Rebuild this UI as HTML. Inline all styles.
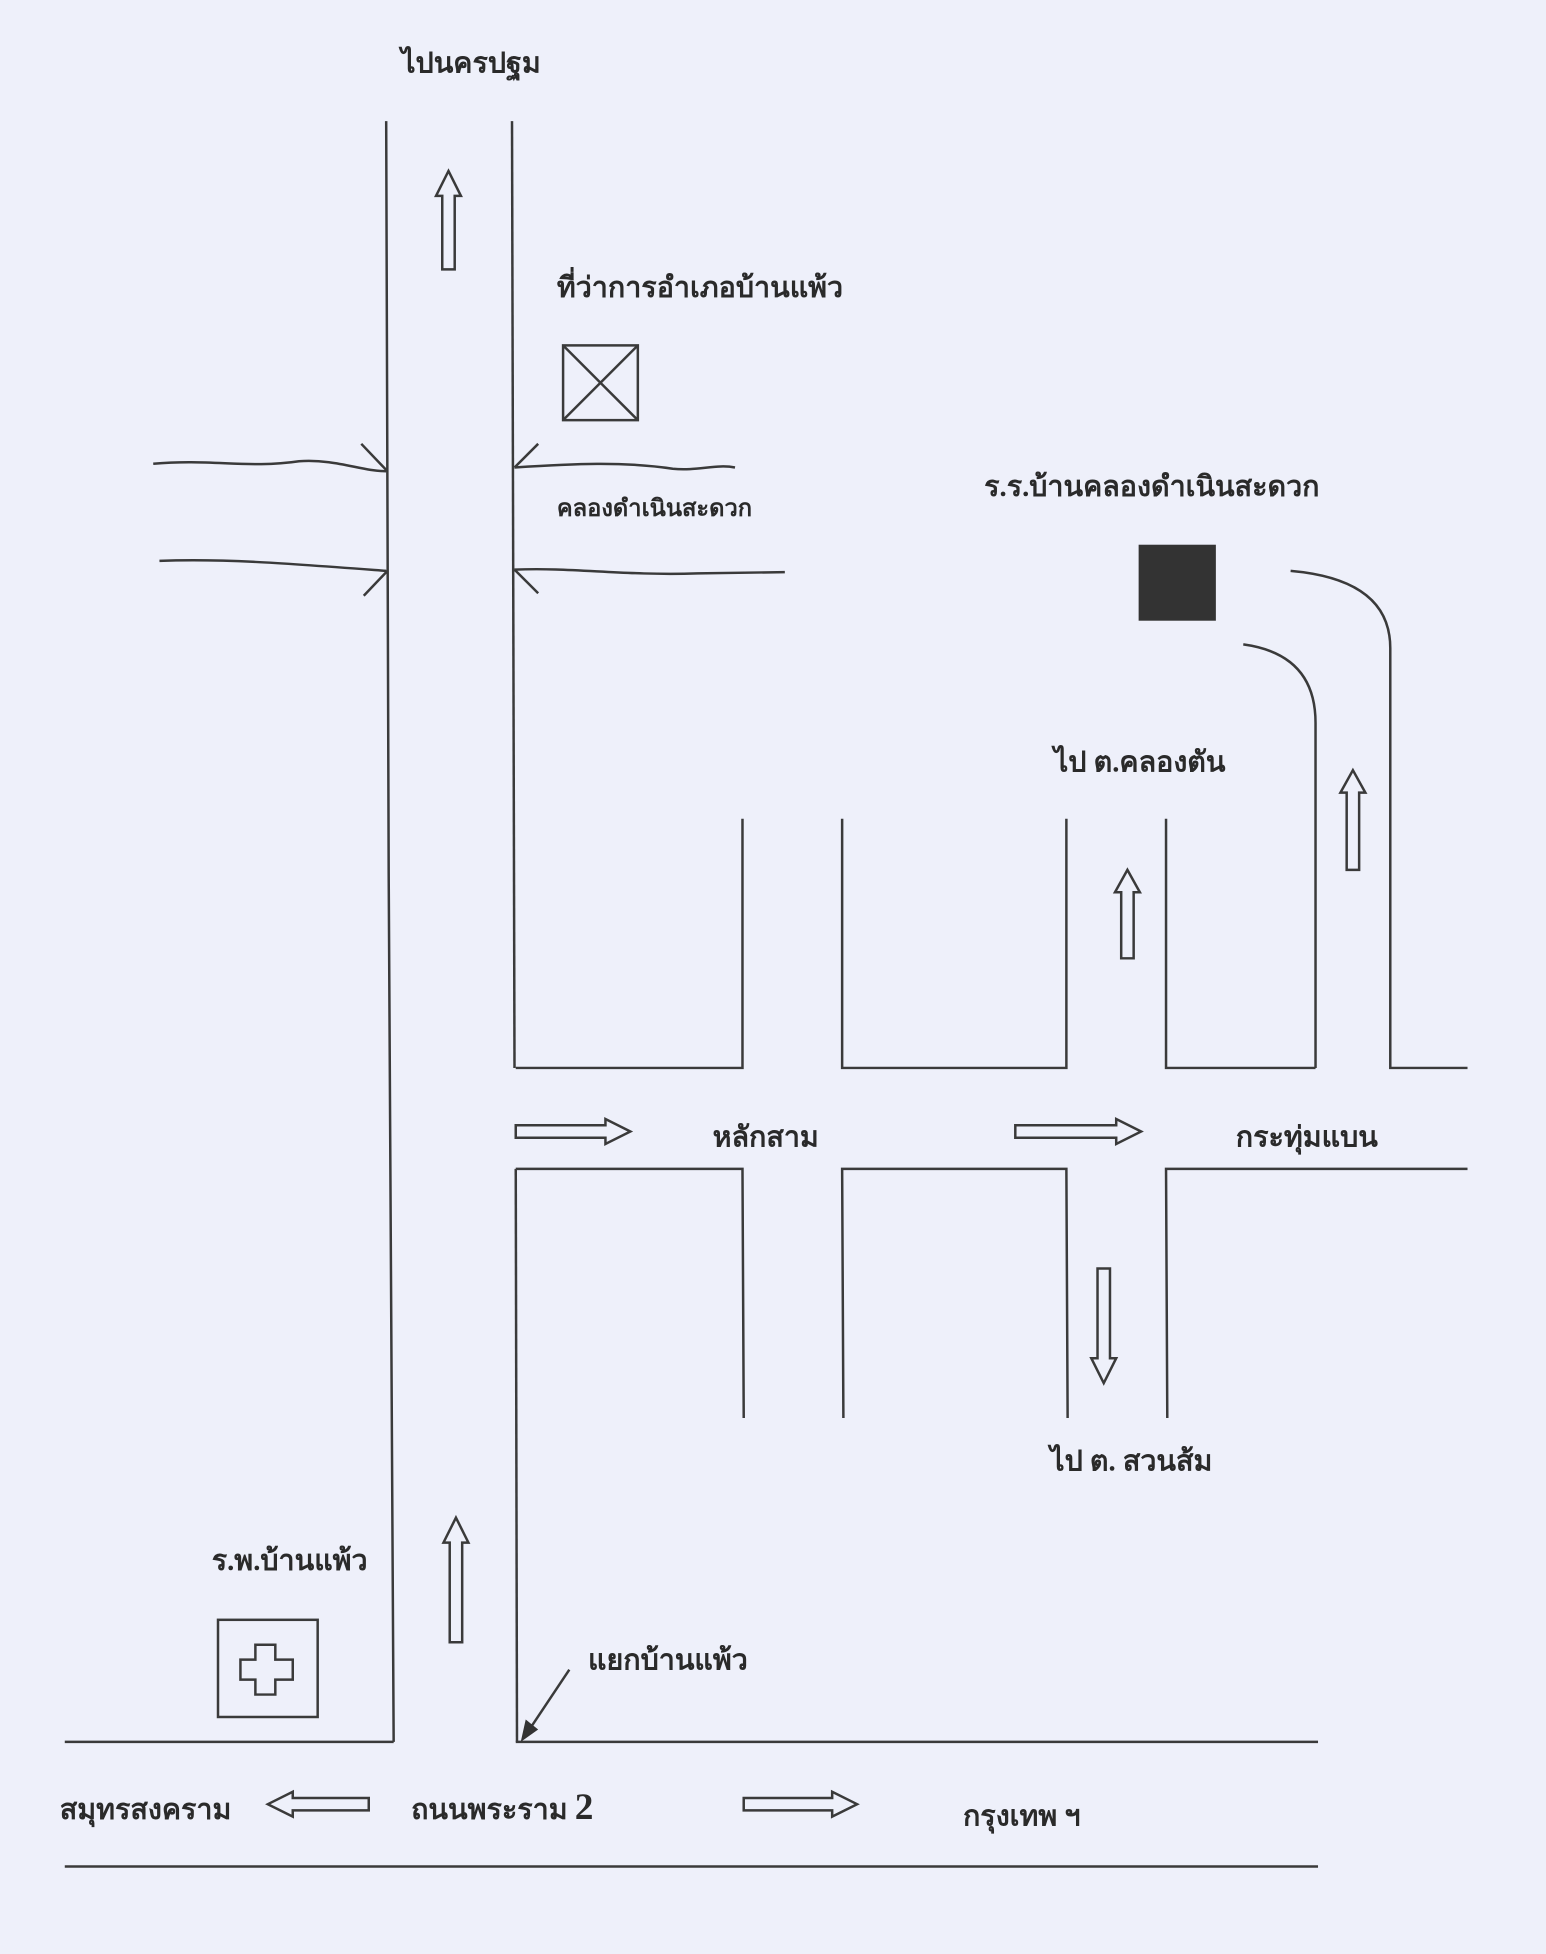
<!DOCTYPE html>
<html><head><meta charset="utf-8"><style>
html,body{margin:0;padding:0;background:#eef0fa;}
svg{display:block}
text{font-family:"Liberation Serif","DejaVu Serif",serif;font-weight:bold;fill:#2a2a2a;font-size:23px}
</style></head><body>
<svg width="1546" height="1954" viewBox="0 0 1241 1568" xmlns="http://www.w3.org/2000/svg">
<rect width="1241" height="1568" fill="#eef0fa"/>
<g stroke="#3a3a3a" stroke-width="2" fill="none">
<path d="M310 97 L312 700 L316 1398"/>
<path d="M411 97 L413 857"/>
<path d="M414 938 L415 1398"/>
<path d="M123 372 C170 368 200 376 240 370 C270 368 290 378 310 378"/>
<path d="M128 450 C180 448 230 452 310 458"/>
<path d="M413 375 C460 372 500 370 540 376 C560 378 575 372 590 375"/>
<path d="M413 457 C460 455 500 462 560 460 L630 459"/>
<path d="M290 356 L311 378"/><path d="M311 458 L292 478"/>
<path d="M432 356 L413 375"/><path d="M413 457 L432 476"/>
<rect x="452" y="277" width="60" height="60"/>
<path d="M452 277 L512 337 M512 277 L452 337"/>
<path d="M998 517 Q1056 525 1056 580 L1056 857"/>
<path d="M1036 458 Q1116 465 1116 520 L1116 857 L1178 857"/>
<path d="M414 857 L596 857 L596 657"/>
<path d="M676 657 L676 857 L856 857 L856 657"/>
<path d="M936 657 L936 857 L1056 857"/>
<path d="M414 938 L596 938 L597 1138"/>
<path d="M677 1138 L676 938 L856 938 L857 1138"/>
<path d="M937 1138 L936 938 L1178 938"/>
<rect x="175" y="1300" width="80" height="78"/>
<path d="M205 1320 h16 v12 h14 v16 h-14 v12 h-16 v-12 h-12 v-16 h12 z"/>
<path d="M52 1398 L316 1398"/><path d="M414 1398 L1058 1398"/>
<path d="M52 1498 L1058 1498"/>
<path d="M457 1340 L425 1388"/>
<polygon points="360,137 370,157 365,157 365,216 355,216 355,157 350,157"/>
<polygon points="366,1218 376,1238 371,1238 371,1318 361,1318 361,1238 356,1238"/>
<polygon points="905,698 915,716 910,716 910,769 900,769 900,716 895,716"/>
<polygon points="1086,618 1096,636 1091,636 1091,698 1081,698 1081,636 1076,636"/>
<polygon points="886,1110 896,1090 891,1090 891,1018 881,1018 881,1090 876,1090"/>
<polygon points="506,908 486,898 486,903 414,903 414,913 486,913 486,918"/>
<polygon points="916,908 896,898 896,903 815,903 815,913 896,913 896,918"/>
<polygon points="688,1448 668,1438 668,1443 597,1443 597,1453 668,1453 668,1458"/>
<polygon points="215,1448 235,1438 235,1443 296,1443 296,1453 235,1453 235,1458"/>
</g>
<rect x="914" y="437" width="62" height="61" fill="#333"/>
<polygon points="418,1398 422,1380 432,1388" fill="#333"/>
<text x="322" y="58">ไปนครปฐม</text>
<text x="447" y="238">ที่ว่าการอำเภอบ้านแพ้ว</text>
<text x="447" y="414" style="font-size:19px">คลองดำเนินสะดวก</text>
<text x="790" y="398">ร.ร.บ้านคลองดำเนินสะดวก</text>
<text x="846" y="619">ไป ต.คลองตัน</text>
<text x="572" y="920">หลักสาม</text>
<text x="992" y="920">กระทุ่มแบน</text>
<text x="843" y="1180">ไป ต. สวนส้ม</text>
<text x="170" y="1260">ร.พ.บ้านแพ้ว</text>
<text x="472" y="1340">แยกบ้านแพ้ว</text>
<text x="48" y="1460">สมุทรสงคราม</text>
<text x="330" y="1460">ถนนพระราม <tspan style="font-size:30px">2</tspan></text>
<text x="773" y="1465">กรุงเทพ ฯ</text>
</svg>
</body></html>
